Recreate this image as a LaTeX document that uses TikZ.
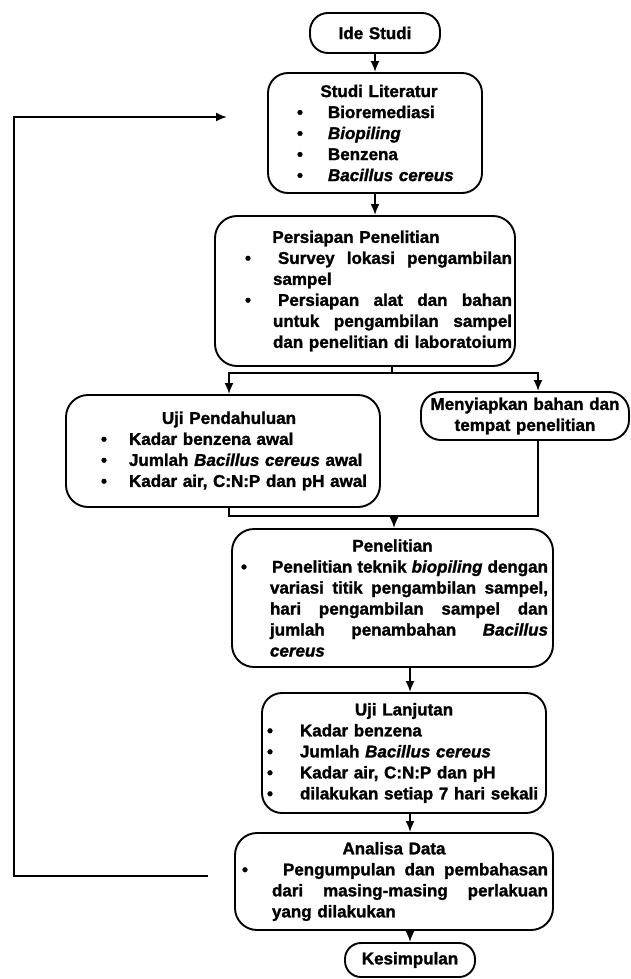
\documentclass[tikz,border=0pt]{standalone}
\usepackage{fontspec}
\setmainfont{Liberation Sans}[BoldFeatures={FakeBold=1.5},BoldItalicFeatures={FakeBold=1.5}]
\usetikzlibrary{arrows.meta}
\newcommand\ctr[2][0pt]{\hbox to\linewidth{\hfil\kern#1\kern#1\relax #2\hfil}}
\newcommand\bul[3]{\hbox to\linewidth{\kern#1\relax\makebox[0pt]{\textbullet}\kern\dimexpr#2-#1\relax #3\hfil}}
\newcommand\jbox[2]{\hbox to#1{\spaceskip=\fontdimen2\font plus 1fil\relax #2}}
\newcommand\bulj[4]{\hbox to\linewidth{\kern#1\relax\makebox[0pt]{\textbullet}\kern\dimexpr#2-#1\relax\jbox{\dimexpr#3-#2\relax}{#4}\hss}}
\newcommand\cnt[2]{\hbox to\linewidth{\kern#1\relax #2\hfil}}
\newcommand\cntj[3]{\hbox to\linewidth{\kern#1\relax\jbox{\dimexpr#2-#1\relax}{#3}\hss}}
\newcommand\fs{\fontsize{17}{21}\selectfont\bfseries}
\tikzset{
  flowbox/.style={draw, line width=1.9pt, rounded corners=20pt, inner xsep=0pt, inner ysep=0pt, font=\fs},
  conn/.style={line width=1.9pt},
  arr/.style={line width=1.9pt, -{Latex[length=11pt,width=9pt]}}
}
\begin{document}
\begin{tikzpicture}[x=1pt,y=-1pt]
\fill[white] (0,0) rectangle (630,979);
\useasboundingbox (0,0) rectangle (630,979);

\node[flowbox, rounded corners=18pt, text width=130pt, minimum height=40pt] (ide) at (375,33) {\ctr{Ide Studi}};

\node[flowbox, text width=214pt, minimum height=120pt] (studi) at (375,133) {\fontsize{17}{22}\selectfont
\ctr[4pt]{Studi Literatur}
\bul{32pt}{60pt}{Bioremediasi}
\bul{32pt}{60pt}{\itshape Biopiling}
\bul{32pt}{60pt}{Benzena}
\bul{32pt}{60pt}{\itshape Bacillus cereus}};

\node[flowbox, rounded corners=22pt, text width=300pt, minimum height=150pt] (pers) at (365,291) {
\ctr[-9pt]{Persiapan Penelitian}
\bulj{33pt}{63pt}{297pt}{Survey lokasi pengambilan}
\cnt{58pt}{sampel}
\bulj{33pt}{63pt}{297pt}{Persiapan alat dan bahan}
\cntj{58pt}{297pt}{untuk pengambilan sampel}
\cntj{58pt}{297pt}{dan penelitian di laboratoium}};

\node[flowbox, rounded corners=22pt, text width=314pt, minimum height=112pt] (uji) at (223,451) {\fontsize{17}{21.5}\selectfont
\ctr[6pt]{Uji Pendahuluan}
\bul{38pt}{63pt}{Kadar benzena awal}
\bul{38pt}{63pt}{Jumlah {\itshape Bacillus cereus} awal}
\bul{38pt}{63pt}{Kadar air, C:N:P dan pH awal}};

\node[flowbox, text width=208pt, minimum height=48pt] (meny) at (525,416) {\fontsize{17}{20}\selectfont
\ctr{Menyiapkan bahan dan}
\ctr{tempat penelitian}};

\node[flowbox, rounded corners=22pt, text width=321pt, minimum height=138pt] (pen) at (392.5,598) {
\ctr{Penelitian}
\bulj{12pt}{40pt}{316pt}{Penelitian teknik {\itshape biopiling} dengan}
\cntj{38pt}{316pt}{variasi titik pengambilan sampel,}
\cntj{38pt}{316pt}{hari pengambilan sampel dan}
\cntj{38pt}{316pt}{jumlah penambahan {\itshape Bacillus}}
\cnt{38pt}{\itshape cereus}};

\node[flowbox, text width=284pt, minimum height=120pt] (lan) at (404,753) {
\ctr{Uji Lanjutan}
\bul{8pt}{38pt}{Kadar benzena}
\bul{8pt}{38pt}{Jumlah {\itshape Bacillus cereus}}
\bul{8pt}{38pt}{Kadar air, C:N:P dan pH}
\bul{8pt}{38pt}{dilakukan setiap 7 hari sekali}};

\node[flowbox, rounded corners=22pt, text width=318pt, minimum height=97pt] (ana) at (394,881.5) {\fontsize{17}{19}\selectfont
\ctr{Analisa Data}
\bulj{10pt}{48pt}{313pt}{Pengumpulan dan pembahasan}
\cntj{37pt}{313pt}{dari masing-masing perlakuan}
\cnt{37pt}{yang dilakukan}};

\node[flowbox, rounded corners=16pt, text width=130pt, minimum height=34pt] (kes) at (410,960) {\ctr{Kesimpulan}};

\coordinate (split) at (392,373);
\coordinate (sL) at (229,373);
\coordinate (sR) at (538,373);
\coordinate (mL) at (229,516);
\coordinate (mR) at (538,516);
\coordinate (mM) at (394,516);
\coordinate (ax) at (410,0);
\coordinate (fbS) at (208,876);
\coordinate (fbL) at (14,876);
\coordinate (fbE) at (227,117);

\draw[arr] (ide.south) -- (studi.north);
\draw[arr] (studi.south) -- (studi.south |- pers.north);
\draw[conn] (pers.south -| split) -- (split);
\draw[arr] (split) -| (uji.north -| sL);
\draw[arr] (split) -| (meny.north -| sR);
\draw[conn] (uji.south -| mL) -- (mL) -- (mR) -- (meny.south -| mR);
\draw[arr] (mM) -- (pen.north -| mM);
\draw[arr] (pen.south -| ax) -- (lan.north -| ax);
\draw[arr] (lan.south -| ax) -- (ana.north -| ax);
\draw[arr] (ana.south -| ax) -- (kes.north -| ax);
\draw[arr] (fbS) -- (fbL) |- (fbE);
\end{tikzpicture}
\end{document}
